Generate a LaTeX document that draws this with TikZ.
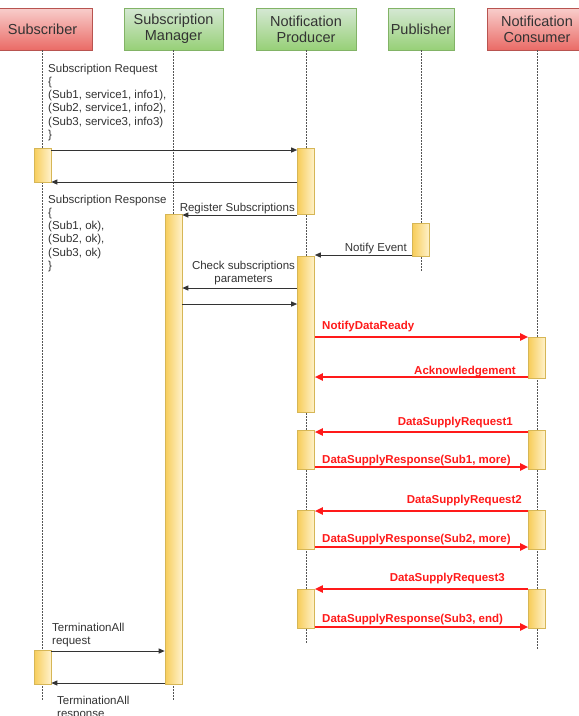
\documentclass[tikz,border=0pt]{standalone}
\usepackage{fontspec}
\setmainfont{Liberation Sans}
\usepackage{tikz}
\usetikzlibrary{arrows.meta,positioning,calc}
\definecolor{sqtext}{HTML}{333333}
\definecolor{sqline}{HTML}{555555}
\definecolor{sqhot}{HTML}{FF1A1A}
\definecolor{sqredtop}{HTML}{F8CECC}
\definecolor{sqredbot}{HTML}{EA6B66}
\definecolor{sqredbd}{HTML}{B85450}
\definecolor{sqgrntop}{HTML}{D5E8D4}
\definecolor{sqgrnbot}{HTML}{97D077}
\definecolor{sqgrnbd}{HTML}{82B366}
\definecolor{sqbarL}{HTML}{F7CD5A}
\definecolor{sqbarR}{HTML}{FFF2CC}
\definecolor{sqbarbd}{HTML}{D6B656}

\begin{document}
\begin{tikzpicture}[x=1pt, y=-1pt,
  actor/.style={draw, line width=0.8pt, minimum height=42pt, inner sep=0pt, align=center, font=\fontsize{14.5pt}{16pt}\selectfont, text=sqtext},
  actred/.style={actor, draw=sqredbd, top color=sqredtop, bottom color=sqredbot},
  actgrn/.style={actor, draw=sqgrnbd, top color=sqgrntop, bottom color=sqgrnbot},
  life/.style={sqline, line width=0.9pt, dash pattern=on 1.5pt off 1.5pt},
  bar/.style={draw=sqbarbd, line width=0.6pt, left color=sqbarL, right color=sqbarR, minimum width=17pt, inner sep=0pt},
  msg/.style={-{Triangle[length=6pt,width=5pt]}, sqtext, line width=0.9pt},
  hot/.style={-{Triangle[length=8pt,width=7pt]}, sqhot, line width=1.8pt},
  txt/.style={font=\fontsize{11.5pt}{13.2pt}\selectfont, text=sqtext, inner sep=0pt},
  hottxt/.style={font=\fontsize{11.5pt}{13.2pt}\selectfont\bfseries, text=sqhot, inner sep=0pt}
]
\useasboundingbox (0,0) rectangle (579,716);
% actors
\node[actred, minimum width=99pt]  (subh) at (42.5,29) {Subscriber};
\node[actgrn, minimum width=99pt]  (smh)  at (173.5,29) {Subscription\\Manager};
\node[actgrn, minimum width=100pt] (nph)  at (306,29) {Notification\\Producer};
\node[actgrn, minimum width=66pt]  (pbh)  at (421,29) {Publisher};
\node[actred, minimum width=100pt] (nch)  at (537,29) {Notification\\Consumer};
% lifelines
\coordinate (subend) at (42.5,700);
\coordinate (smend)  at (173.5,700);
\coordinate (npend)  at (306,643);
\coordinate (pbend)  at (421,272);
\coordinate (ncend)  at (537,650);
\draw[life] (subh) -- (subend);
\draw[life] (smh) -- (smend);
\draw[life] (nph) -- (npend);
\draw[life] (pbh) -- (pbend);
\draw[life] (nch) -- (ncend);
% activation bars
\node[bar, minimum height=34pt]  (sb1) at (42.5,165) {};
\node[bar, minimum height=66pt]  (np1) at (306,181) {};
\node[bar, minimum height=470pt] (sm1) at (173.5,449) {};
\node[bar, minimum height=33pt]  (pb1) at (421,239.5) {};
\node[bar, minimum height=156pt] (np2) at (306,334) {};
\node[bar, minimum height=41pt]  (nc1) at (537,357.5) {};
\node[bar, minimum height=39pt]  (np3) at (306,449.5) {};
\node[bar, minimum height=39pt]  (nc2) at (537,449.5) {};
\node[bar, minimum height=39pt]  (np4) at (306,529.5) {};
\node[bar, minimum height=39pt]  (nc3) at (537,529.5) {};
\node[bar, minimum height=39pt]  (np5) at (306,608.5) {};
\node[bar, minimum height=39pt]  (nc4) at (537,608.5) {};
\node[bar, minimum height=34pt]  (sb2) at (42.5,667) {};
% message levels
\coordinate (lvReq) at (0,150);
\coordinate (lvRsp) at (0,182);
\coordinate (lvReg) at (0,215);
\coordinate (lvEvt) at (0,255);
\coordinate (lvChk) at (0,288);
\coordinate (lvRet) at (0,304);
\coordinate (lvNdr) at (0,337);
\coordinate (lvAck) at (0,377);
\coordinate (lvDq1) at (0,432);
\coordinate (lvDr1) at (0,467);
\coordinate (lvDq2) at (0,511);
\coordinate (lvDr2) at (0,547);
\coordinate (lvDq3) at (0,589);
\coordinate (lvDr3) at (0,627);
\coordinate (lvTrq) at (0,651);
\coordinate (lvTrs) at (0,683);
% subscription
\draw[msg] (sb1.east |- lvReq) -- (np1.west |- lvReq);
\draw[msg] (np1.west |- lvRsp) -- (sb1.east |- lvRsp);
\draw[msg] (np1.west |- lvReg) -- (sm1.east |- lvReg);
\draw[msg] (pb1.west |- lvEvt) -- (np2.east |- lvEvt);
\draw[msg] (np2.west |- lvChk) -- (sm1.east |- lvChk);
\draw[msg] (sm1.east |- lvRet) -- (np2.west |- lvRet);
\node[txt, anchor=north west, align=left] (lblReq) at (48,63.8) {Subscription Request\\\{\\(Sub1, service1, info1),\\(Sub2, service1, info2),\\(Sub3, service3, info3)\\\}};
\node[txt, anchor=north west, align=left] (lblRsp) at (48,194.8) {Subscription Response\\\{\\(Sub1, ok),\\(Sub2, ok),\\(Sub3, ok)\\\}};
\node[txt, anchor=base east] (lblReg) at (295,211.1) {Register Subscriptions};
\node[txt, anchor=base east] (lblEvt) at (407,251) {Notify Event};
\node[txt, anchor=north, align=center] (lblChk) at (243.5,260.8) {Check subscriptions\\parameters};
% data supply (red)
\draw[hot] (np2.east |- lvNdr) -- (nc1.west |- lvNdr);
\draw[hot] (nc1.west |- lvAck) -- (np2.east |- lvAck);
\draw[hot] (nc2.west |- lvDq1) -- (np3.east |- lvDq1);
\draw[hot] (np3.east |- lvDr1) -- (nc2.west |- lvDr1);
\draw[hot] (nc3.west |- lvDq2) -- (np4.east |- lvDq2);
\draw[hot] (np4.east |- lvDr2) -- (nc3.west |- lvDr2);
\draw[hot] (nc4.west |- lvDq3) -- (np5.east |- lvDq3);
\draw[hot] (np5.east |- lvDr3) -- (nc4.west |- lvDr3);
\node[hottxt, anchor=base west] (lblNdr) at (322,329) {NotifyDataReady};
\node[hottxt, anchor=base east] (lblAck) at (516,374) {Acknowledgement};
\node[hottxt, anchor=base east] (lblDq1) at (513,425) {DataSupplyRequest1};
\node[hottxt, anchor=base west] (lblDr1) at (322,463) {DataSupplyResponse(Sub1, more)};
\node[hottxt, anchor=base east] (lblDq2) at (522,503) {DataSupplyRequest2};
\node[hottxt, anchor=base west] (lblDr2) at (322,542) {DataSupplyResponse(Sub2, more)};
\node[hottxt, anchor=base east] (lblDq3) at (505,581) {DataSupplyRequest3};
\node[hottxt, anchor=base west] (lblDr3) at (322,622) {DataSupplyResponse(Sub3, end)};
% termination
\draw[msg] (sb2.east |- lvTrq) -- (sm1.west |- lvTrq);
\draw[msg] (sm1.west |- lvTrs) -- (sb2.east |- lvTrs);
\node[txt, anchor=north west, align=left] (lblTrq) at (52,622.8) {TerminationAll\\request};
\node[txt, anchor=north west, align=left] (lblTrs) at (57,695.8) {TerminationAll\\response};
\end{tikzpicture}
\end{document}
